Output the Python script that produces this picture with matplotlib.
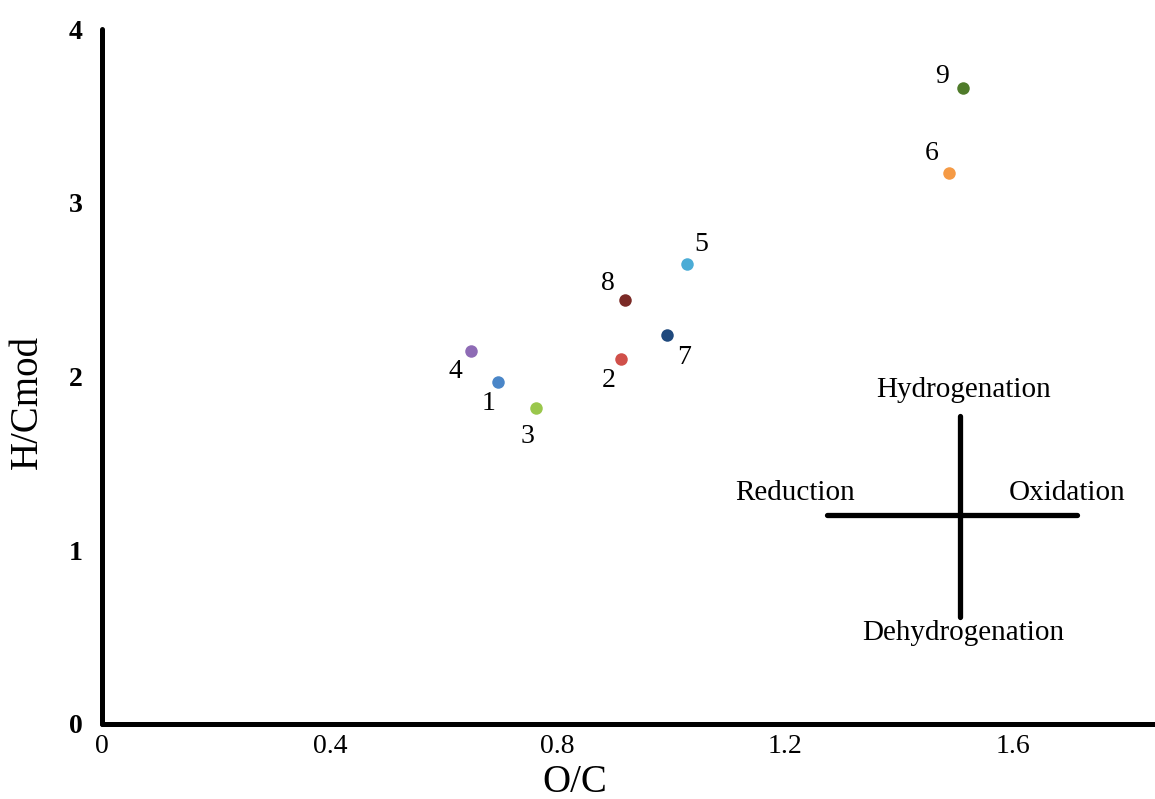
import numpy as np
import matplotlib.pyplot as plt

plt.rcParams['font.family'] = ['Liberation Serif', 'DejaVu Serif']

# sample numbers and their O/C, H/Cmod values
labels = ['1', '2', '3', '4', '5', '6', '7', '8', '9']
oc = [0.696, 0.911, 0.762, 0.648, 1.027, 1.487, 0.992, 0.918, 1.511]
hc = [1.970, 2.102, 1.817, 2.146, 2.647, 3.174, 2.238, 2.438, 3.660]
colors = ['#4a86c8', '#d0504a', '#9ac74c', '#8e6bb5', '#4bacd6',
          '#f59a45', '#1f497d', '#7b2a26', '#4f7b2a']

x_ticks = [0, 0.4, 0.8, 1.2, 1.6]
x_ticklabels = ['0', '0.4', '0.8', '1.2', '1.6']
y_ticks = [0, 1, 2, 3, 4]

# label offsets in points (where each number sits relative to its dot)
label_offsets = [(-7, -16), (-9, -16), (-6, -20), (-11, -15), (10, 14),
                 (-12, 14), (12, -16), (-12, 12), (-15, 8)]

fig = plt.figure(figsize=(11.55, 7.99), dpi=100)
ax = fig.add_axes([0.0883, 0.0939, 0.9117, 0.8698])

for xv, yv, c, lab, off in zip(oc, hc, colors, labels, label_offsets):
    ax.plot(xv, yv, 'o', color=c, markersize=9, markeredgewidth=0)
    ax.annotate(lab, (xv, yv), xytext=off, textcoords='offset points',
                ha='center', va='center', fontsize=20)

# direction cross
cx, cy = 1.507, 1.205
ax.plot([1.273, 1.712], [cy, cy], color='black', lw=3.8, solid_capstyle='round')
ax.plot([cx, cx], [0.618, 1.771], color='black', lw=3.8, solid_capstyle='round')
cross_font = dict(ha='center', va='center', fontsize=21)
ax.text(1.512, 1.921, 'Hydrogenation', **cross_font)
ax.text(1.512, 0.522, 'Dehydrogenation', **cross_font)
ax.text(1.217, 1.329, 'Reduction', **cross_font)
ax.text(1.694, 1.329, 'Oxidation', **cross_font)

ax.set_xlim(0, 1.849)
ax.set_ylim(0, 4)
ax.set_xticks(x_ticks)
ax.set_xticklabels(x_ticklabels)
ax.set_yticks(y_ticks)
ax.tick_params(length=0, labelsize=20)
ax.tick_params(axis='x', pad=7)
ax.tick_params(axis='y', pad=14)
for t in ax.get_yticklabels():
    t.set_fontweight('bold')
for s in ['top', 'right']:
    ax.spines[s].set_visible(False)
for s in ['left', 'bottom']:
    ax.spines[s].set_linewidth(3.6)
    ax.spines[s].set_capstyle('round')

fig.text(0.498, 0.021, 'O/C', ha='center', va='center', fontsize=28)
fig.text(0.024, 0.497, 'H/Cmod', ha='center', va='center', fontsize=28, rotation=90)

plt.savefig('out.png', dpi=100)
